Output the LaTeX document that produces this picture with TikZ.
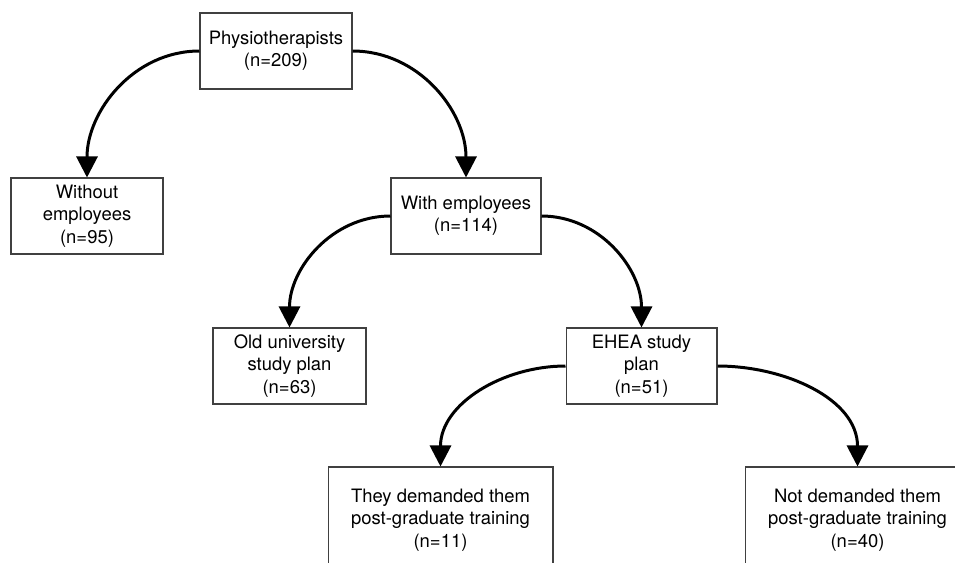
\documentclass[tikz,border=0pt]{standalone}
\usepackage{fontspec}
\setmainfont{TeX Gyre Heros}
\usepackage{tikz}
\usetikzlibrary{arrows.meta}

\tikzset{
  caja/.style={draw=black!75, line width=0.6pt, align=center, inner sep=2pt,
    minimum width=3.04cm, minimum height=1.52cm,
    font=\fontsize{10.5}{12.7}\selectfont},
  cajaancha/.style={caja, minimum width=4.5cm, minimum height=2.12cm},
  flecha/.style={line width=1.7pt, -{Triangle[length=12pt,width=12pt]}},
}

\begin{document}
\begin{tikzpicture}[x=0.02cm, y=0.02cm]
        % Marco de la figura: 955 x 562 (y hacia abajo negativo)
        \useasboundingbox (0,0) rectangle (955,-562);
        \clip (0,0) rectangle (955,-562);

        % Nivel 1
        \node[caja] (physio) at (276,-51) {Physiotherapists\\(n=209)};

        % Nivel 2
        \node[caja] (without) at (87,-216) {Without\\employees\\(n=95)};
        \node[caja, minimum width=3.0cm] (with) at (466,-216) {With employees\\(n=114)};

        % Nivel 3
        \node[caja, minimum width=3.06cm] (old) at (289.5,-366) {Old university\\study plan\\(n=63)};
        \node[caja, minimum width=3.02cm] (ehea) at (641.5,-366) {EHEA study\\plan\\(n=51)};

        % Nivel 4 (las cajas quedan cortadas por el borde)
        \node[cajaancha] (demanded) at (440.5,-520) {They demanded them\\post-graduate training\\(n=11)};
        \node[cajaancha] (notdemanded) at (857.5,-520) {Not demanded them\\post-graduate training\\(n=40)};

        % Flechas curvas: salen por el costado, entran por arriba
        \draw[flecha] (physio.west) to[out=180, in=90] (without.north);
        \draw[flecha] (physio.east) to[out=0, in=90] (with.north);
        \draw[flecha] (with.west) to[out=180, in=90] (old.north);
        \draw[flecha] (with.east) to[out=0, in=90] (ehea.north);
        \draw[flecha] (ehea.west) to[out=180, in=90] (demanded.north);
        \draw[flecha] (ehea.east) to[out=0, in=90] (notdemanded.north);
\end{tikzpicture}
\end{document}
